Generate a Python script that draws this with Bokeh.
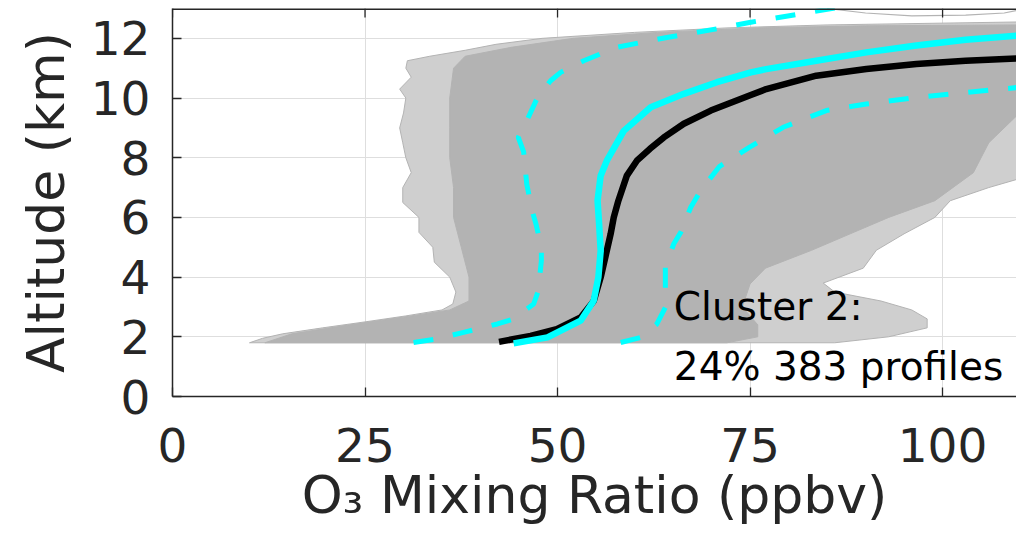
from bokeh.plotting import figure
from bokeh.models import Range1d, FixedTicker, Span
from bokeh.core.properties import value
from bokeh.embed import file_html
from bokeh.resources import INLINE

# ---- data ----
x_ticks = [0, 25, 50, 75, 100]
y_ticks = [0, 2, 4, 6, 8, 10, 12]

# envelope of all individual profiles (sparse outer zone)
env_left_alt = [1.80, 1.95, 2.10, 2.30, 2.50, 2.70, 2.90, 3.10, 3.50, 4.00, 4.50, 5.00, 5.50, 6.00,
                6.50, 7.00, 7.50, 8.00, 8.50, 9.00, 9.50, 10.00, 10.30, 10.70, 11.00, 11.25, 11.40,
                11.60, 11.80, 12.00, 12.20, 12.35, 12.45, 12.55]
env_left_x = [10.0, 11.7, 14.3, 19.5, 25.0, 30.3, 35.0, 36.4, 36.8, 36.0, 34.0, 33.8, 32.0, 32.0,
              29.9, 29.9, 31.0, 30.3, 29.9, 29.5, 30.0, 30.3, 29.5, 31.0, 30.3, 30.5, 33.4,
              38.0, 42.0, 48.0, 60.0, 72.0, 85.0, 110.0]
env_right_alt = [12.55, 7.30, 7.00, 6.56, 6.00, 5.45, 4.90, 4.30, 3.80, 3.50, 3.20, 2.90, 2.60, 2.30, 2.00, 1.80]
env_right_x = [110.0, 110.0, 106.0, 101.0, 99.0, 95.0, 91.4, 89.7, 84.5, 86.0, 92.0, 96.0, 98.0, 98.0, 93.0, 86.0]

# dense core of the profiles
core_left_alt = [1.80, 2.10, 2.40, 2.70, 2.90, 3.20, 4.00, 5.00, 6.00, 7.00, 8.00, 9.00, 10.00, 11.00,
                 11.40, 11.70, 12.00, 12.20, 12.35, 12.42, 12.45]
core_left_x = [12.0, 15.5, 23.0, 31.0, 36.0, 38.5, 38.5, 37.5, 36.5, 36.5, 36.0, 36.0, 36.0, 36.5,
               38.0, 44.0, 52.0, 63.0, 76.0, 90.0, 110.0]
core_right_alt = [12.45, 9.50, 8.50, 7.50, 6.56, 6.00, 5.45, 4.90, 4.30, 3.77, 3.00, 2.40, 2.00, 1.80]
core_right_x = [110.0, 110.0, 106.0, 104.0, 99.0, 93.0, 88.0, 83.0, 77.0, 75.0, 74.0, 76.0, 76.0, 72.0]

# highest single profile near the top
top_prof_x = [85.0, 90.0, 96.0, 103.0, 108.0, 110.0]
top_prof_alt = [13.0, 12.85, 12.75, 12.78, 12.85, 12.95]

# black: median profile
black_x = [42.4, 46.5, 49.9, 53.0, 54.7, 55.6, 56.2, 56.9, 57.3, 57.9, 59.0, 60.3, 62.0, 63.8, 66.4,
           69.9, 75.1, 77.1, 83.6, 90.1, 96.6, 103.0, 110.0]
black_alt = [1.83, 2.03, 2.26, 2.65, 3.20, 3.99, 4.66, 5.45, 6.00, 6.56, 7.40, 7.90, 8.30, 8.68, 9.14,
             9.58, 10.10, 10.30, 10.75, 10.97, 11.14, 11.25, 11.33]

# cyan solid: mean profile
cyan_x = [44.3, 48.7, 53.0, 54.7, 55.3, 55.6, 55.4, 55.2, 55.6, 56.4, 58.6, 62.1, 66.4, 70.7, 75.1,
          77.1, 83.6, 90.1, 96.6, 103.0, 110.0]
cyan_alt = [1.78, 1.98, 2.54, 3.21, 3.99, 4.88, 5.78, 6.56, 7.40, 7.90, 8.90, 9.69, 10.14, 10.53, 10.86,
            10.97, 11.25, 11.53, 11.76, 11.95, 12.10]

# cyan dashed: lower / upper spread
lo_x = [31.3, 34.2, 37.8, 42.2, 44.3, 46.9, 47.5, 47.9, 47.9, 47.2, 46.7, 46.0, 45.6, 44.9, 46.2, 47.4,
        49.1, 50.4, 53.4, 57.7, 64.2, 70.7, 75.1, 80.1, 86.6]
lo_alt = [1.81, 1.92, 2.15, 2.43, 2.60, 3.10, 3.54, 4.55, 5.00, 5.78, 6.22, 7.12, 8.20, 8.68, 9.35, 10.02,
          10.58, 10.86, 11.25, 11.70, 12.03, 12.32, 12.54, 12.76, 13.04]
hi_x = [58.2, 60.8, 62.9, 64.0, 64.0, 65.1, 66.0, 67.3, 68.6, 71.0, 74.9, 79.3, 84.9, 90.1, 96.6, 103.1, 110.0]
hi_alt = [1.81, 1.98, 2.43, 2.98, 4.32, 5.12, 5.50, 6.34, 6.90, 7.70, 8.35, 9.02, 9.58, 9.80, 10.02, 10.19, 10.36]

label_lines = ["Cluster 2:", "24% 383 profiles"]
label_x = 65.1
label_alt = [3.02, 1.02]

X_MAX = 109.6
Y_MAX = 13.0

# ---- figure ----
FONT = "DejaVu Sans"
AX = "#262626"

p = figure(width=1016, height=537, x_range=Range1d(0, X_MAX), y_range=Range1d(0, Y_MAX),
           output_backend="svg", toolbar_location=None,
           min_border_left=172, min_border_right=0, min_border_top=8, min_border_bottom=141)
p.outline_line_color = None
p.background_fill_color = "white"

for ax in (p.xaxis, p.yaxis):
    ax.major_tick_in = 9
    ax.major_tick_out = 0
    ax.minor_tick_line_color = None
    ax.axis_line_color = AX
    ax.axis_line_width = 1.5
    ax.major_tick_line_color = AX
    ax.major_tick_line_width = 1.3
    ax.major_label_text_font = FONT
    ax.major_label_text_font_size = "47px"
    ax.major_label_text_color = AX
    ax.axis_label_text_font = FONT
    ax.axis_label_text_font_style = "normal"
    ax.axis_label_text_color = AX
    ax.axis_label_text_font_size = "52px"

p.xaxis.ticker = FixedTicker(ticks=x_ticks)
p.yaxis.ticker = FixedTicker(ticks=y_ticks)
p.xaxis.major_label_standoff = 31
p.yaxis.major_label_standoff = 22
p.xaxis.axis_label = "O₃ Mixing Ratio (ppbv)"
p.yaxis.axis_label = "Altitude (km)"
p.xaxis.axis_label_standoff = 0
p.yaxis.axis_label_standoff = 12

p.xgrid.ticker = FixedTicker(ticks=x_ticks)
p.ygrid.ticker = FixedTicker(ticks=y_ticks)
p.grid.grid_line_color = "#dedede"
p.grid.grid_line_width = 1

# gray profiles
p.patch(env_left_x + env_right_x, env_left_alt + env_right_alt,
        fill_color="#cfcfcf", line_color="#b3b3b3", line_width=1)
p.patch(core_left_x + core_right_x, core_left_alt + core_right_alt,
        fill_color="#b3b3b3", line_color="#b3b3b3", line_width=1)
p.line(top_prof_x, top_prof_alt, line_color="#b3b3b3", line_width=1.2)

# statistics
p.line(lo_x, lo_alt, line_color="#00ffff", line_width=5, line_dash="20 20")
p.line(hi_x, hi_alt, line_color="#00ffff", line_width=5, line_dash="20 20")
p.line(black_x, black_alt, line_color="black", line_width=6.5)
p.line(cyan_x, cyan_alt, line_color="#00ffff", line_width=6.5)

p.text(x=[label_x, label_x], y=label_alt, text=label_lines,
       text_font=value(FONT), text_font_size="39px", text_color="black",
       text_baseline="alphabetic", text_align="left")

# top box edge with inward ticks (MATLAB-style box)
p.add_layout(Span(location=Y_MAX, dimension="width", line_color=AX, line_width=3))
tick_len = 9 * Y_MAX / 388.0
p.segment(x0=x_ticks, y0=[Y_MAX] * len(x_ticks), x1=x_ticks, y1=[Y_MAX - tick_len] * len(x_ticks),
          line_color=AX, line_width=1.3)

open("out.html", "w").write(file_html(p, INLINE))
